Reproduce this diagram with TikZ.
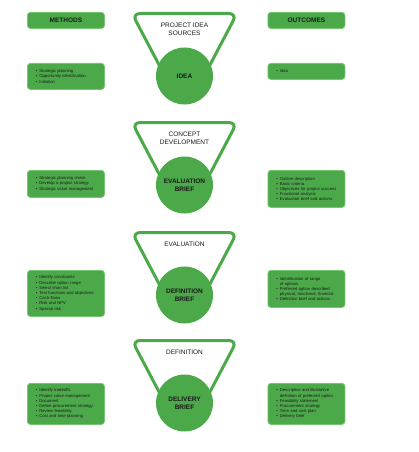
\documentclass[tikz,border=0pt]{standalone}
\usepackage{fontspec}
\setmainfont{Liberation Sans}
\usetikzlibrary{calc}
\definecolor{gfill}{HTML}{4CA94A}
\definecolor{gedge}{HTML}{74C671}
\definecolor{ink}{HTML}{1A1A1A}
\newcommand\bi{\hspace*{8.5pt}\textbullet\hspace{2pt}}
\newcommand\cn{\hspace*{8.5pt}\phantom{\textbullet}\hspace{2pt}}
\tikzset{
  box/.style={draw=gedge, line width=0.8pt, fill=gfill, rounded corners=3pt,
    minimum width=77pt, anchor=north west, inner sep=0pt, text=ink},
  headbox/.style={box, minimum height=16pt, font=\fontsize{6.5}{7}\selectfont\bfseries},
  listbox/.style={box, text width=77pt, align=left,
    font=\fontsize{4.2}{5.2}\selectfont},
  tri/.style={draw=gfill, line width=3pt, rounded corners=8pt, line join=round},
  circ/.style={circle, fill=gfill, minimum size=57pt, inner sep=0pt, text=ink,
    font=\fontsize{6.5}{8}\selectfont\bfseries, align=center},
  trilabel/.style={font=\fontsize{6.5}{8}\selectfont, align=center, text=ink}
}
\begin{document}
\begin{tikzpicture}[x=1pt,y=-1pt]
\useasboundingbox (0,0) rectangle (418,452);
% headers
\node[headbox] (mh) at (27,12) {METHODS};
\node[headbox] (oh) at (267.5,12) {OUTCOMES};
% centres
\coordinate (k1) at (184.5,76);
\coordinate (k2) at (184.5,185);
\coordinate (k3) at (184.5,295);
\coordinate (k4) at (184.5,403);
% triangles
\foreach \k in {k1,k2,k3,k4}{
  \draw[tri] ($(\k)+(-17.5,4)$) -- ($(\k)+(-52.5,-62.5)$) -- ($(\k)+(52.5,-62.5)$) -- ($(\k)+(17.5,4)$);
}
% circles
\node[circ] (c1) at (k1) {IDEA};
\node[circ] (c2) at (k2) {EVALUATION\\BRIEF};
\node[circ] (c3) at (k3) {DEFINITION\\BRIEF};
\node[circ] (c4) at (k4) {DELIVERY\\BRIEF};
% triangle labels
\node[trilabel] (t1) at ($(k1)+(0,-47)$) {PROJECT IDEA\\SOURCES};
\node[trilabel] (t2) at ($(k2)+(0,-47)$) {CONCEPT\\DEVELOPMENT};
\node[trilabel] (t3) at ($(k3)+(0,-51)$) {EVALUATION};
\node[trilabel] (t4) at ($(k4)+(0,-51)$) {DEFINITION};
% method boxes
\node[listbox, minimum height=26pt] (m1) at (27,63)
  {\bi Strategic planning\\\bi Opportunity identification\\\bi Initiation};
\node[listbox, minimum height=27pt] (m2) at (27,170)
  {\bi Strategic planning check\\\bi Develop a project strategy\\\bi Strategic value management};
\node[listbox, minimum height=46pt] (m3) at (27,270)
  {\bi Identify constraints\\\bi Describe option range\\\bi Select short list\\\bi Test functions and objectives\\\bi Cash flows\\\bi Risk and NPV\\\bi Special risk};
\node[listbox, minimum height=41pt] (m4) at (27,383)
  {\bi Identify tradeoffs\\\bi Project value management\\\bi Document\\\bi Define procurement strategy\\\bi Review feasibility\\\bi Cost and time planning};
% outcome boxes
\node[listbox, minimum height=16pt] (o1) at (267.5,63)
  {\bi Idea};
\node[listbox, minimum height=37pt] (o2) at (267.5,170)
  {\bi Outline description\\\bi Basic criteria\\\bi Objectives for project success\\\bi Functional analysis\\\bi Evaluation brief and actions};
\node[listbox, minimum height=37pt] (o3) at (267.5,270)
  {\bi Identification of range\\\cn of options\\\bi Preferred option described\\\cn physical, functional, financial\\\bi Definition brief and actions};
\node[listbox, minimum height=41pt] (o4) at (267.5,383)
  {\bi Descriptive and illustrative\\\cn definition of preferred option\\\bi Feasibility statement\\\bi Procurement strategy\\\bi Time and cost plan\\\bi Delivery brief};
\end{tikzpicture}
\end{document}
